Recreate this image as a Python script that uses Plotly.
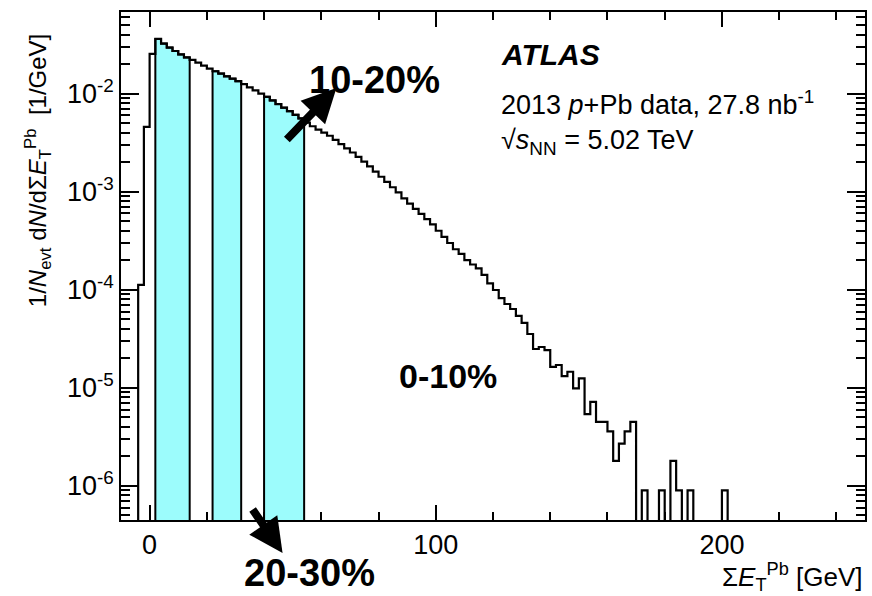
import plotly.graph_objects as go

# ---------------- data ----------------
bin_width = 2.0
first_bin_low = -4.0
# 1/N dN/dSumET per 2 GeV bin, starting at -4 GeV (0 = empty bin)
dn_de = [
    1.12e-4, 4.57e-3, 2.54e-2, 3.61e-2, 3.24e-2, 2.95e-2, 2.72e-2, 2.51e-2,
    2.34e-2, 2.21e-2, 2.07e-2, 1.93e-2, 1.80e-2, 1.69e-2, 1.60e-2, 1.50e-2,
    1.42e-2, 1.34e-2, 1.25e-2, 1.16e-2, 1.08e-2, 1.00e-2, 9.27e-3, 8.53e-3,
    7.83e-3, 7.19e-3, 6.62e-3, 6.08e-3, 5.58e-3, 5.07e-3, 4.65e-3, 4.30e-3,
    4.01e-3, 3.72e-3, 3.38e-3, 3.06e-3, 2.77e-3, 2.51e-3, 2.26e-3, 2.03e-3,
    1.81e-3, 1.60e-3, 1.42e-3, 1.26e-3, 1.11e-3, 9.84e-4, 8.53e-4, 7.55e-4,
    6.68e-4, 5.93e-4, 5.25e-4, 4.64e-4, 4.00e-4, 3.46e-4, 3.00e-4, 2.59e-4,
    2.32e-4, 2.01e-4, 1.81e-4, 1.65e-4, 1.42e-4, 1.16e-4, 9.95e-5, 8.24e-5,
    7.16e-5, 6.37e-5, 5.41e-5, 4.59e-5, 3.54e-5, 2.49e-5, 2.61e-5, 2.43e-5,
    1.64e-5, 1.71e-5, 1.32e-5, 1.46e-5, 9.9e-6, 1.25e-5, 5.4e-6, 7.2e-6,
    4.5e-6, 4.5e-6, 3.6e-6, 1.8e-6, 2.7e-6, 3.6e-6, 4.5e-6, 0,
    9e-7, 0, 0, 9e-7, 0, 1.8e-6, 9e-7, 0,
    9e-7, 0, 0, 0, 0, 0, 9e-7,
]
band_low = [2, 22, 40]
band_high = [14, 32, 54]
x_range = [-10, 250]
y_log_range = [-6.347, -1.168]
y_major = [1e-6, 1e-5, 1e-4, 1e-3, 1e-2]
y_major_text = ["10<sup>-6</sup>", "10<sup>-5</sup>", "10<sup>-4</sup>",
                "10<sup>-3</sup>", "10<sup>-2</sup>"]
y_minor = [m * 10.0 ** e for e in range(-7, -1) for m in range(2, 10)]

# ---------------- build ----------------
floor_val = 1e-8
edges = [first_bin_low + i * bin_width for i in range(len(dn_de) + 1)]


def yv(v):
    return v if v > 0 else floor_val


fig = go.Figure()

# cyan bands
for lo, hi in zip(band_low, band_high):
    bx, by = [lo], [floor_val]
    for i, v in enumerate(dn_de):
        if edges[i] >= lo and edges[i + 1] <= hi:
            bx += [edges[i], edges[i + 1]]
            by += [yv(v), yv(v)]
    bx += [hi, lo]
    by += [floor_val, floor_val]
    fig.add_trace(go.Scatter(x=bx, y=by, mode="lines", fill="toself",
                             fillcolor="#9cfcfc",
                             line=dict(color="black", width=2),
                             hoverinfo="skip"))

# main histogram outline
hx, hy = [x_range[0], edges[0]], [floor_val, floor_val]
for i, v in enumerate(dn_de):
    hx += [edges[i], edges[i + 1]]
    hy += [yv(v), yv(v)]
hx += [edges[-1], x_range[1]]
hy += [floor_val, floor_val]
fig.add_trace(go.Scatter(x=hx, y=hy, mode="lines",
                         line=dict(color="black", width=2.2)))

FONT = "Liberation Sans, Arial, Helvetica, sans-serif"
L, R, T, B = 121, 867, 12, 520


def px(xp):
    return (xp - L) / (R - L)


def py(yp):
    return (B - yp) / (B - T)


fig.update_layout(
    width=872, height=596,
    margin=dict(l=L, r=872 - R, t=T, b=596 - B),
    plot_bgcolor="white", paper_bgcolor="white",
    showlegend=False,
    font=dict(family=FONT, color="black", size=22),
)
fig.update_xaxes(
    range=x_range, showline=True, linecolor="black", linewidth=1.5,
    mirror="allticks", ticks="inside", ticklen=15, tickwidth=1.5,
    tickcolor="black", tick0=0, dtick=100, tickfont=dict(size=27),
    showgrid=False, zeroline=False,
    minor=dict(ticks="inside", ticklen=8, tickwidth=1.5, tickcolor="black",
               tick0=0, dtick=20, showgrid=False),
)
fig.update_yaxes(
    type="log", range=y_log_range, showline=True, linecolor="black",
    linewidth=1.5, mirror="allticks", ticks="inside", ticklen=18,
    tickwidth=1.5, tickcolor="black", tickmode="array", tickvals=y_major,
    ticktext=y_major_text, tickfont=dict(size=27), showgrid=False,
    zeroline=False,
    minor=dict(ticks="inside", ticklen=9, tickwidth=1.5, tickcolor="black",
               tickmode="array", tickvals=y_minor, showgrid=False),
)

ann = []
ann.append(dict(text="<b><i>ATLAS</i></b>", x=px(500), y=py(55),
                xanchor="left", yanchor="middle", font=dict(size=30)))
ann.append(dict(text="2013 <i>p</i>+Pb data, 27.8 nb<sup>-1</sup>",
                x=px(500), y=py(103), xanchor="left", yanchor="middle",
                font=dict(size=27)))
ann.append(dict(text="\u221a<i>s</i><sub>NN</sub> = 5.02 TeV",
                x=px(500), y=py(142), xanchor="left", yanchor="middle",
                font=dict(size=27)))
ann.append(dict(text="<b>10-20%</b>", x=px(375), y=py(80), xanchor="center",
                yanchor="middle", font=dict(size=38)))
ann.append(dict(text="<b>0-10%</b>", x=px(449), y=py(376), xanchor="center",
                yanchor="middle", font=dict(size=34)))
ann.append(dict(text="<b>20-30%</b>", x=px(310), y=py(573), xanchor="center",
                yanchor="middle", font=dict(size=38)))
ann.append(dict(text="\u03a3<i>E</i><sub>T</sub><sup>Pb</sup> [GeV]",
                x=1.0, y=py(577), xanchor="right", yanchor="middle",
                font=dict(size=26)))
ann.append(dict(text="1/<i>N</i><sub>evt</sub> d<i>N</i>/d\u03a3<i>E</i><sub>T</sub><sup>Pb</sup>  [1/GeV]",
                x=px(38), y=py(170), xanchor="center", yanchor="middle",
                textangle=-90, font=dict(size=24)))
# arrows
ann.append(dict(text="", x=px(337), y=py(88), showarrow=True, arrowhead=2,
                arrowsize=0.85, arrowwidth=8, arrowcolor="black",
                ax=-51, ay=53, standoff=0))
ann.append(dict(text="", x=px(283), y=py(553), showarrow=True, arrowhead=2,
                arrowsize=0.85, arrowwidth=8, arrowcolor="black",
                ax=-31, ay=-45, standoff=0))
for a in ann:
    a.setdefault("showarrow", False)
    a["xref"] = "paper"
    a["yref"] = "paper"
fig.update_layout(annotations=ann)

fig.write_html("out.html")
